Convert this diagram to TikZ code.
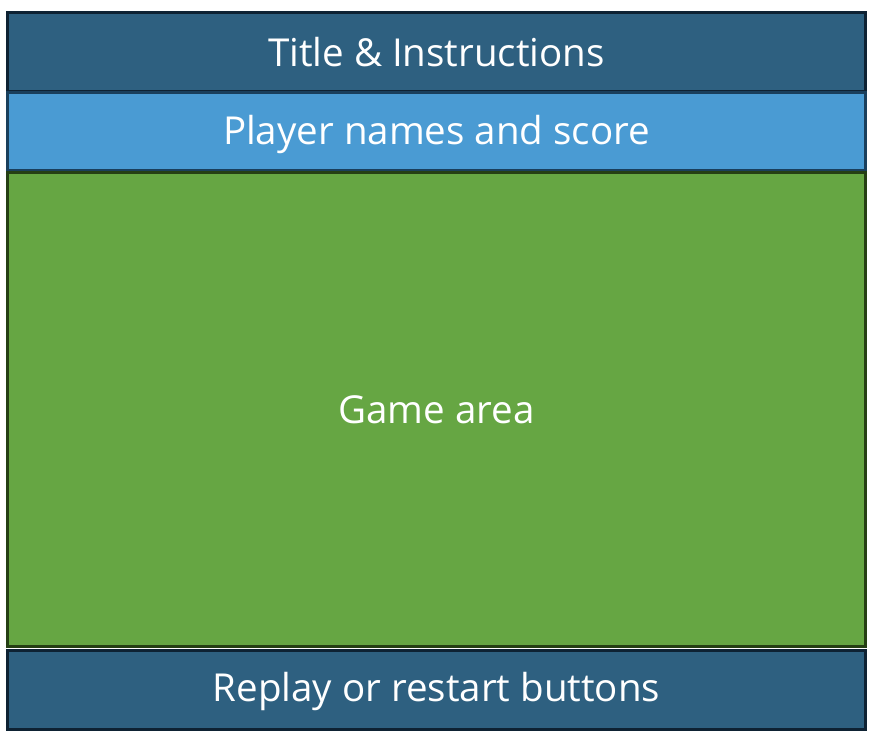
\documentclass[tikz,border=0pt]{standalone}
\usepackage{fontspec}
\setmainfont{Open Sans}
\definecolor{navyfill}{HTML}{2E6080}
\definecolor{navyline}{HTML}{0E2233}
\definecolor{bluefill}{HTML}{4A9BD3}
\definecolor{blueline}{HTML}{1A3F5C}
\definecolor{greenfill}{HTML}{66A643}
\definecolor{greenline}{HTML}{253F14}
\begin{document}
\begin{tikzpicture}[x=1pt,y=-1pt,
  band/.style={rectangle, inner sep=0pt, outer sep=0pt, line width=3pt,
    minimum width=858pt, text=white, font=\fontsize{38.5}{42}\selectfont},
  navyband/.style={band, fill=navyfill, draw=navyline},
  blueband/.style={band, fill=bluefill, draw=blueline},
  greenband/.style={band, fill=greenfill, draw=greenline}]
\useasboundingbox (0,0) rectangle (878,738);
\node[navyband, minimum height=79pt] (title) at (436.5,52) {Title \& Instructions};
\node[blueband, minimum height=78pt] (player) at (436.5,131.5) {\raisebox{-3pt}[\height][\depth]{Player names and score}};
\node[greenband, minimum height=474pt] (game) at (436.5,409.5) {Game area};
\node[navyband, minimum height=79pt] (replay) at (436.5,689.5) {\raisebox{-2pt}[\height][\depth]{Replay or restart buttons}};
\end{tikzpicture}
\end{document}
